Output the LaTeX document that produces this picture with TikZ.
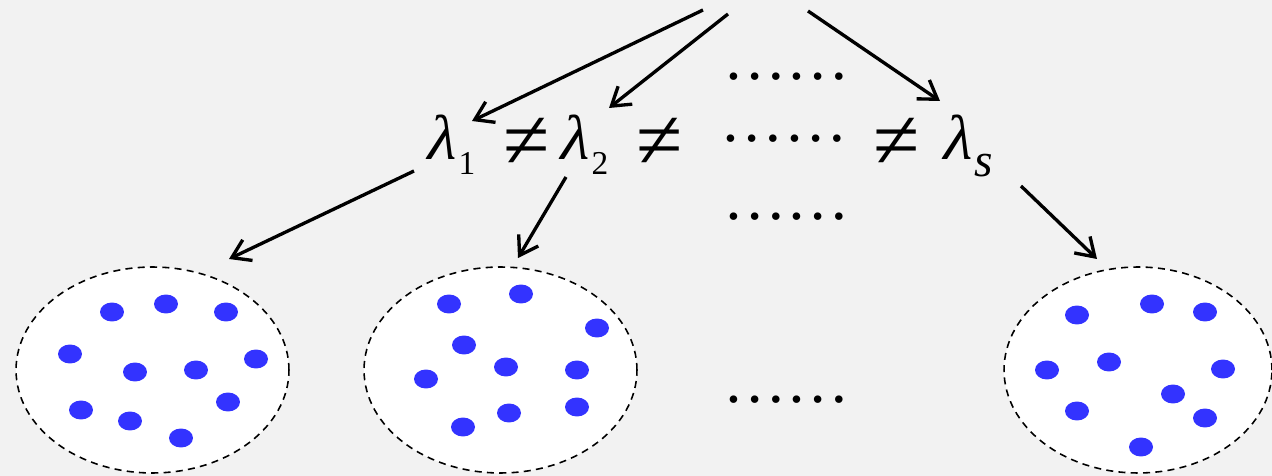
\documentclass[tikz,border=0pt]{standalone}
\usepackage{fontspec}
\setmainfont{Liberation Serif}
\newfontfamily\slantfont{Liberation Serif}[FakeSlant=0.2]
\usepackage{tikz}
\usetikzlibrary{shapes.geometric, arrows.meta, calc}
\definecolor{bggray}{HTML}{F2F2F2}
\definecolor{dotblue}{RGB}{51,51,255}
\newcommand{\lam}{{\slantfont λ}}
\newcommand{\lamsub}[2]{\lam\kern2pt\raisebox{-8.5pt}{\fontsize{#2}{#2}\selectfont #1}}

\begin{document}
\begin{tikzpicture}[x=0.02cm, y=-0.02cm,
        lbl/.style={inner sep=0pt, anchor=base west, font=\fontsize{36}{40}\selectfont},
        neq/.style={inner sep=0pt, font=\fontsize{48}{50}\selectfont},
        dotrow/.style={inner sep=0pt, font=\fontsize{36}{40}\selectfont},
        arr/.style={line width=1.9pt, -{Straight Barb[length=10pt, width=13pt, line width=1.9pt]}},
        group/.style={ellipse, draw, fill=white, line width=0.9pt, dash pattern=on 4pt off 3pt,
            minimum width=5.46cm, minimum height=4.12cm}]
            \useasboundingbox (0,0) rectangle (1272,476);
            \fill[bggray] (0,0) rectangle (1272,476);
            % labels
            \node[lbl] (lam1) at (424,160) {\lamsub{1}{19}};
            \node[neq] (neq1) at (527,143) {≠};
            \node[lbl] (lam2) at (557,160) {\lamsub{2}{19}};
            \node[neq] (neq2) at (660,143) {≠};
            \node[neq] (neq3) at (897,143) {≠};
            \node[lbl] (lams) at (940,160) {\lam\kern2pt\raisebox{-9.5pt}{\fontsize{27}{27}\selectfont\textit{s}}};
            \node[dotrow] (dots1) at (786.5,77) {……};
            \node[dotrow] (dots2) at (784,139) {……};
            \node[dotrow] (dots3) at (786.5,217) {……};
            \node[dotrow] (dots4) at (786.5,400) {……};
            % groups
            \node[group] (g1) at (152.5,370) {};
            \node[group] (g2) at (500.5,370) {};
            \node[group, minimum width=5.36cm] (g3) at (1138,370) {};
            \foreach \p in {(112,312),(166,304),(226,312),(70,354),(135,372),(196,370),
                            (256,359),(81,410),(130,421),(228,402),(181,438),
                            (449,304),(521,294),(597,328),(464,345),(506,367),
                            (426,379),(577,370),(509,413),(463,427),(577,407),
                            (1077,315),(1152,304),(1205,312),(1047,370),(1109,362),
                            (1223,369),(1173,394),(1077,411),(1205,418),(1141,447)}
                \fill[dotblue] \p ellipse [x radius=0.24cm, y radius=0.19cm];
            % arrows
            \coordinate (top1) at (703,10);
            \coordinate (top2) at (728,14);
            \coordinate (top3) at (808,11);
            \draw[arr] (top1) -- ($(lam1.base west)+(48,-39)$);
            \draw[arr] (top2) -- ($(lam2.base west)+(52,-52)$);
            \draw[arr] (top3) -- ($(lams.base west)+(0,-59)$);
            \draw[arr] ($(lam1.base west)+(-10,11)$) -- ($(g1.center)+(76.5,-111)$);
            \draw[arr] ($(lam2.base west)+(9,17)$) -- ($(g2.center)+(17.5,-112)$);
            \draw[arr] ($(lams.base west)+(81,26)$) -- ($(g3.center)+(-41,-111)$);
        \end{tikzpicture}
\end{document}
